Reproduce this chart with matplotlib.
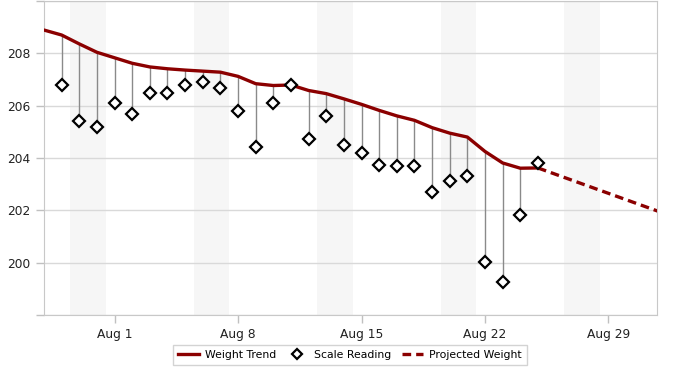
import matplotlib
matplotlib.use("Agg")
import matplotlib.pyplot as plt
import matplotlib.dates as mdates
from matplotlib.lines import Line2D
from datetime import datetime, timedelta

# daily data, Jul 28 .. Aug 25
start = datetime(2015, 7, 28)
trend = [208.89, 208.70, 208.36, 208.04, 207.83, 207.62, 207.48, 207.41, 207.36,
         207.32, 207.28, 207.12, 206.84, 206.77, 206.79, 206.58, 206.46, 206.26,
         206.05, 205.82, 205.61, 205.44, 205.16, 204.95, 204.80, 204.25, 203.81,
         203.61, 203.62]
# scale readings, Jul 29 .. Aug 25
readings = [206.79, 205.41, 205.20, 206.09, 205.69, 206.50, 206.50, 206.78, 206.90,
            206.69, 205.80, 204.43, 206.09, 206.79, 204.72, 205.60, 204.50, 204.20,
            203.72, 203.70, 203.70, 202.71, 203.13, 203.32, 200.03, 199.25, 201.83,
            203.82]
proj_dates = [datetime(2015, 8, 25), datetime(2015, 9, 1)]
proj_values = [203.62, 201.92]

trend_dates = [start + timedelta(days=i) for i in range(len(trend))]
read_dates = [start + timedelta(days=i + 1) for i in range(len(readings))]

dark_red = "#8b0000"
grid_col = "#d9d9d9"
dash = (0, (2.6, 1.5))

fig = plt.figure(figsize=(7, 3.8), dpi=100)
ax = fig.add_axes([44 / 700, 65 / 380, 613 / 700, 314 / 380])

# weekend bands
b = datetime(2015, 7, 29, 12)
while b < datetime(2015, 9, 2):
    ax.axvspan(b, b + timedelta(days=2), color="#f6f6f6", zorder=0, lw=0)
    b += timedelta(days=7)

# stems from trend to reading
for d, r in zip(read_dates, readings):
    t = trend[trend_dates.index(d)]
    ax.plot([d, d], [t, r], color="#8a8a8a", lw=1, zorder=2)

ax.plot(trend_dates, trend, color=dark_red, lw=2.4, zorder=3, solid_capstyle="round")
ax.plot(proj_dates, proj_values, color=dark_red, lw=2.4, ls=dash, zorder=3)
ax.plot(read_dates, readings, ls="none", marker="D", ms=6, mfc="white",
        mec="black", mew=1.6, zorder=4)

ax.set_xlim(datetime(2015, 7, 28), datetime(2015, 8, 31, 18))
ax.set_ylim(198, 210)
ax.set_yticks(range(198, 211, 2))
ax.set_yticklabels(["", "200", "202", "204", "206", "208", ""])
ax.xaxis.set_major_locator(mdates.WeekdayLocator(byweekday=mdates.SA))
ax.xaxis.set_major_formatter(mdates.DateFormatter("%b %-d"))
ax.grid(axis="y", color=grid_col, lw=1)
ax.set_axisbelow(True)
ax.tick_params(axis="both", colors="#c0c0c0", labelcolor="#222222", labelsize=8.8,
               length=6, width=1)
for s in ax.spines.values():
    s.set_color("#c8c8c8")

handles = [
    Line2D([], [], color=dark_red, lw=2.4),
    Line2D([], [], ls="none", marker="D", ms=5, mfc="white", mec="black", mew=1.6),
    Line2D([], [], color=dark_red, lw=2.4, ls=dash),
]
leg = fig.legend(handles, ["Weight Trend", "Scale Reading", "Projected Weight"],
                 loc="center", bbox_to_anchor=(0.5, 25 / 380), ncol=3, fontsize=7.8,
                 frameon=True, fancybox=False, edgecolor="#c8c8c8",
                 handlelength=1.9, handletextpad=0.6, columnspacing=1.0,
                 borderpad=0.5)
leg.get_frame().set_linewidth(1)

fig.savefig("out.png", dpi=100)
